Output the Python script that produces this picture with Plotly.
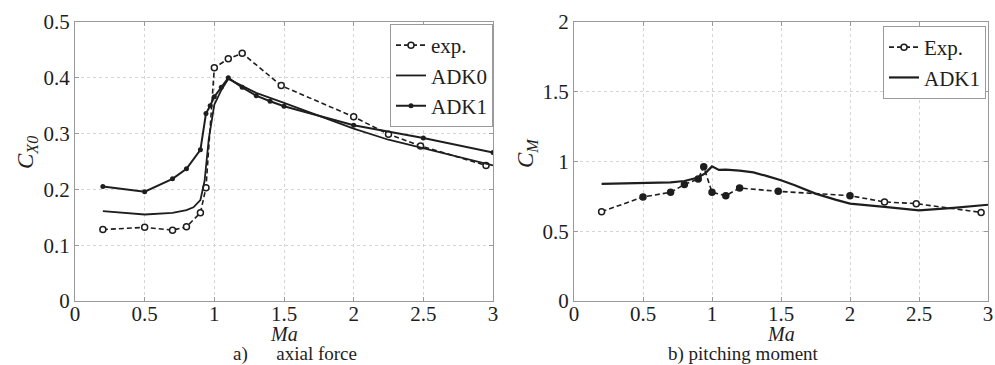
import plotly.graph_objects as go

# ---- axial force coefficient C_X0 vs Mach ----
ma_exp_a = [0.2, 0.5, 0.7, 0.8, 0.9, 0.94, 1.0, 1.1, 1.2, 1.48, 2.0, 2.25, 2.48, 2.95]
cx0_exp = [0.128, 0.132, 0.127, 0.133, 0.158, 0.203, 0.418, 0.434, 0.444, 0.386, 0.330, 0.299, 0.278, 0.243]

ma_adk0 = [0.2, 0.5, 0.7, 0.8, 0.85, 0.9, 0.93, 0.96, 1.0, 1.05, 1.1, 1.2, 1.3, 1.5, 2.0, 2.25, 2.5, 3.0]
cx0_adk0 = [0.161, 0.155, 0.158, 0.163, 0.168, 0.181, 0.215, 0.29, 0.352, 0.378, 0.398, 0.385, 0.373, 0.355, 0.309, 0.289, 0.274, 0.243]

ma_adk1_a = [0.2, 0.5, 0.7, 0.8, 0.9, 0.94, 0.97, 1.0, 1.05, 1.1, 1.2, 1.3, 1.4, 1.5, 2.0, 2.5, 3.0]
cx0_adk1 = [0.205, 0.196, 0.219, 0.237, 0.271, 0.336, 0.350, 0.366, 0.383, 0.400, 0.383, 0.368, 0.358, 0.349, 0.315, 0.292, 0.266]

# ---- pitching moment coefficient C_M vs Mach ----
ma_exp_b = [0.2, 0.5, 0.7, 0.8, 0.9, 0.94, 1.0, 1.1, 1.2, 1.48, 2.0, 2.25, 2.48, 2.95]
cm_exp = [0.640, 0.746, 0.779, 0.835, 0.875, 0.962, 0.779, 0.755, 0.810, 0.786, 0.755, 0.710, 0.698, 0.635]

ma_adk1_b = [0.2, 0.5, 0.7, 0.8, 0.9, 0.95, 1.0, 1.05, 1.1, 1.2, 1.3, 1.4, 1.5, 1.6, 1.75, 1.9, 2.0, 2.25, 2.5, 2.75, 3.0]
cm_adk1 = [0.840, 0.843, 0.850, 0.860, 0.885, 0.915, 0.965, 0.940, 0.942, 0.935, 0.922, 0.895, 0.866, 0.830, 0.770, 0.725, 0.698, 0.675, 0.650, 0.668, 0.690]

x_ticks = [0, 0.5, 1, 1.5, 2, 2.5, 3]
x_tick_text = ["0", "0.5", "1", "1.5", "2", "2.5", "3"]
ya_ticks = [0, 0.1, 0.2, 0.3, 0.4, 0.5]
ya_tick_text = ["0", "0.1", "0.2", "0.3", "0.4", "0.5"]
yb_ticks = [0, 0.5, 1, 1.5, 2]
yb_tick_text = ["0", "0.5", "1", "1.5", "2"]

W, H = 995, 365
SERIF = "Liberation Serif"
INK = "#1e1e1e"

fig = go.Figure()

# left panel
fig.add_trace(go.Scatter(
    x=ma_exp_a, y=cx0_exp, name="exp.", mode="lines+markers",
    line=dict(color=INK, width=1.6, dash="5px,3px"),
    marker=dict(symbol="circle", size=6, color="white",
                line=dict(color=INK, width=1.5)),
    xaxis="x", yaxis="y", legend="legend"))
fig.add_trace(go.Scatter(
    x=ma_adk0, y=cx0_adk0, name="ADK0", mode="lines",
    line=dict(color=INK, width=1.8),
    xaxis="x", yaxis="y", legend="legend"))
fig.add_trace(go.Scatter(
    x=ma_adk1_a, y=cx0_adk1, name="ADK1", mode="lines+markers",
    line=dict(color=INK, width=2),
    marker=dict(symbol="circle", size=5, color=INK),
    xaxis="x", yaxis="y", legend="legend"))

# right panel
open_b = [True, False, False, False, False, False, False, False, False, False, False, True, True, True]
fig.add_trace(go.Scatter(
    x=ma_exp_b, y=cm_exp, name="Exp.", mode="lines+markers",
    line=dict(color=INK, width=1.6, dash="5px,3px"),
    marker=dict(symbol="circle", size=6,
                color=["white" if o else INK for o in open_b],
                line=dict(color=INK, width=1.5)),
    xaxis="x2", yaxis="y2", legend="legend2"))
fig.add_trace(go.Scatter(
    x=ma_adk1_b, y=cm_adk1, name="ADK1", mode="lines",
    line=dict(color=INK, width=2.2),
    xaxis="x2", yaxis="y2", legend="legend2"))

axis_common = dict(
    showline=True, linecolor="#9a9a9a", linewidth=1, mirror="ticks",
    ticks="inside", ticklen=4, tickcolor="#9a9a9a",
    showgrid=True, gridcolor="#d4d4d4", griddash="dot", gridwidth=1,
    zeroline=False, automargin=False,
    tickfont=dict(family=SERIF, size=21, color=INK),
)

y_dom = [1 - 301 / H, 1 - 22 / H]
fig.update_layout(
    width=W, height=H,
    margin=dict(l=0, r=0, t=0, b=0, autoexpand=False),
    paper_bgcolor="white", plot_bgcolor="white",
    font=dict(family=SERIF, color=INK),
    xaxis=dict(domain=[75 / W, 493 / W], range=[0, 3], tickvals=x_ticks,
               ticktext=x_tick_text, anchor="y", ticklabelstandoff=-6,
               **axis_common),
    yaxis=dict(domain=y_dom, range=[0, 0.5], tickvals=ya_ticks,
               ticktext=ya_tick_text, anchor="x", **axis_common),
    xaxis2=dict(domain=[574 / W, 988 / W], range=[0, 3], tickvals=x_ticks,
                ticktext=x_tick_text, anchor="y2", ticklabelstandoff=-6,
                **axis_common),
    yaxis2=dict(domain=y_dom, range=[0, 2], tickvals=yb_ticks,
                ticktext=yb_tick_text, anchor="x2", **axis_common),
    legend=dict(x=493 / W, xanchor="right", y=1 - 24 / H, yanchor="top",
                bgcolor="white", bordercolor="#9a9a9a", borderwidth=1,
                font=dict(family=SERIF, size=21, color=INK),
                itemwidth=30, tracegroupgap=0),
    legend2=dict(x=986 / W, xanchor="right", y=1 - 26 / H, yanchor="top",
                 bgcolor="white", bordercolor="#9a9a9a", borderwidth=1,
                 font=dict(family=SERIF, size=21, color=INK),
                 itemwidth=30, tracegroupgap=0),
    showlegend=True,
)

def text_px(x, y, text, size, angle=0, anchor="center"):
    fig.add_annotation(x=x / W, y=1 - y / H, xref="paper", yref="paper",
                       text=text, showarrow=False, textangle=angle,
                       xanchor=anchor, yanchor="middle",
                       font=dict(family=SERIF, size=size, color=INK))

# axis titles
text_px(284, 334, "<i>Ma</i>", 20)
text_px(781, 334, "<i>Ma</i>", 20)
text_px(27, 153, "<i>C</i><sub><i>X0</i></sub>", 23, angle=-90)
text_px(527, 153, "<i>C</i><sub><i>M</i></sub>", 23, angle=-90)

# panel captions
text_px(295, 354, "a)&nbsp;&nbsp;&nbsp;&nbsp;&nbsp;&nbsp;axial force", 19)
text_px(743, 354, "b) pitching moment", 19)

fig.write_html("out.html")
